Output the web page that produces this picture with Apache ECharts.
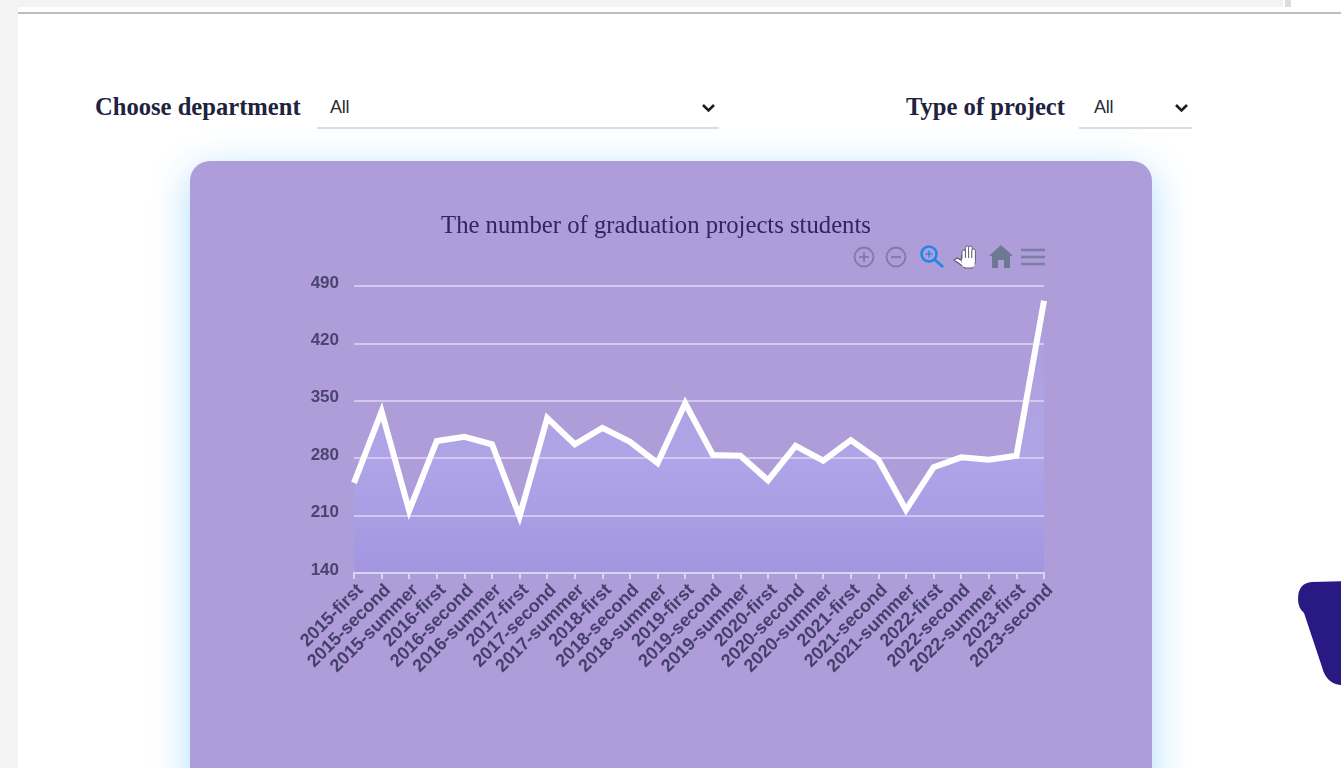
<!DOCTYPE html>
<html>
<head>
<meta charset="utf-8">
<script src="https://cdn.jsdelivr.net/npm/echarts@6/dist/echarts.min.js"></script>
<style>
html,body{margin:0;padding:0;width:1341px;height:768px;overflow:hidden;background:#fff;}
.abs{position:absolute;}
.lab{font-family:"Liberation Serif",serif;font-weight:bold;font-size:24.6px;color:#20223f;line-height:28px;white-space:nowrap;}
.val{font-family:"Liberation Sans",sans-serif;font-size:18px;color:#2b2b33;line-height:22px;letter-spacing:-.3px;}
.ul{height:2px;background:#dcdcdf;}
#card{left:190px;top:161px;width:962px;height:640px;background:#ae9dd9;border-radius:20px;box-shadow:0 10px 38px rgba(160,215,255,.85);}
#chart{left:190px;top:161px;width:962px;height:607px;}
</style>
</head>
<body>
<div class="abs" style="left:0;top:0;width:18px;height:768px;background:#f3f3f3"></div>
<div class="abs" style="left:0;top:0;width:1283px;height:7px;background:#f3f3f3"></div>
<div class="abs" style="left:1285px;top:0;width:6px;height:7px;background:#dcdcdc"></div>
<div class="abs" style="left:18px;top:12px;width:1323px;height:2px;background:#bdbdbd"></div>

<div class="abs lab" style="left:95px;top:93px">Choose department</div>
<div class="abs val" style="left:330px;top:96px">All</div>
<svg class="abs" style="left:701px;top:103px" width="15" height="10"><path d="M2 2 L7.5 7.5 L13 2" fill="none" stroke="#1c1c24" stroke-width="2.6"/></svg>
<div class="abs ul" style="left:317px;top:127px;width:402px"></div>

<div class="abs lab" style="left:906px;top:93px">Type of project</div>
<div class="abs val" style="left:1094px;top:96px">All</div>
<svg class="abs" style="left:1174px;top:103px" width="15" height="10"><path d="M2 2 L7.5 7.5 L13 2" fill="none" stroke="#1c1c24" stroke-width="2.6"/></svg>
<div class="abs ul" style="left:1079px;top:127px;width:113px"></div>

<div class="abs" id="card"></div>
<div class="abs" id="chart"></div>

<svg class="abs" style="left:1290px;top:575px" width="51" height="115">
<path d="M60 6 L22 7 Q8 8 8 24 Q8 33 14 38 L32 92 Q36 108 50 110 L60 110 Z" fill="#281a82"/>
</svg>

<script>
const chartTitle = 'The number of graduation projects students';
const categories = ['2015-first','2015-second','2015-summer','2016-first','2016-second','2016-summer','2017-first','2017-second','2017-summer','2018-first','2018-second','2018-summer','2019-first','2019-second','2019-summer','2020-first','2020-second','2020-summer','2021-first','2021-second','2021-summer','2022-first','2022-second','2022-summer','2023-first','2023-second'];
const students = [250,337,216,301,306,297,209,329,297,317,300,274,347,284,283,253,295,277,302,278,217,269,281,278,283,472];
const yTicks = {min:140,max:490,step:70};

const iconGrey = '#7f7aa6', iconDark = '#6c7a92', iconBlue = '#1e88e5', handEdge = '#5f5c78', menuGrey = '#7b7fa6';
function finger(x, top){
  return {type:'rect',shape:{x:x,y:top,width:3.6,height:14,r:1.8},style:{fill:'#fff',stroke:handEdge,lineWidth:1}};
}
const chart = echarts.init(document.getElementById('chart'), null, {renderer:'canvas'});
chart.setOption({
  animation:false,
  backgroundColor:'transparent',
  title:{
    text:chartTitle,left:461,top:48,textAlign:'center',
    textStyle:{fontFamily:'"Liberation Serif",serif',fontWeight:'normal',fontSize:24.7,color:'#2e2564'}
  },
  grid:{left:164,right:108,top:125,height:287,containLabel:false},
  xAxis:{
    type:'category',data:categories,boundaryGap:false,z:2,
    axisLine:{lineStyle:{color:'#dbd3f3',width:2}},
    axisTick:{show:true,length:6,alignWithLabel:true,lineStyle:{color:'#dbd3f3',width:2}},
    axisLabel:{interval:0,rotate:45,margin:8,verticalAlign:'top',fontFamily:'"Liberation Sans",sans-serif',fontWeight:'bold',fontSize:18,color:'#45406b'},
    splitLine:{show:false}
  },
  yAxis:{
    type:'value',min:yTicks.min,max:yTicks.max,interval:yTicks.step,z:2,
    axisLine:{show:false},axisTick:{show:false},
    axisLabel:{margin:15,verticalAlign:'bottom',lineHeight:6,fontFamily:'"Liberation Sans",sans-serif',fontWeight:'bold',fontSize:17,color:'#4a4570'},
    splitLine:{lineStyle:{color:'#d3c9ef',width:2}}
  },
  series:[
    {type:'line',data:students,z:1,showSymbol:false,symbol:'none',lineStyle:{width:0},
     areaStyle:{opacity:1,color:{type:'linear',x:0,y:0,x2:0,y2:1,colorStops:[
       {offset:0,color:'rgba(176,166,232,0.1)'},
       {offset:.35,color:'rgba(176,166,232,0.6)'},
       {offset:.6,color:'#aea4e7'},
       {offset:1,color:'#a396e1'}]}}},
    {type:'line',data:students,z:4,showSymbol:false,symbol:'none',
     lineStyle:{color:'#ffffff',width:6,join:'miter',miterLimit:10,cap:'butt'}}
  ],
  graphic:[
    {type:'group',x:674,y:96,children:[
      {type:'circle',shape:{cx:0,cy:0,r:9.5},style:{fill:'none',stroke:iconGrey,lineWidth:1.8}},
      {type:'line',shape:{x1:-5,y1:0,x2:5,y2:0},style:{stroke:iconGrey,lineWidth:1.8}},
      {type:'line',shape:{x1:0,y1:-5,x2:0,y2:5},style:{stroke:iconGrey,lineWidth:1.8}}
    ]},
    {type:'group',x:706,y:96,children:[
      {type:'circle',shape:{cx:0,cy:0,r:9.5},style:{fill:'none',stroke:iconGrey,lineWidth:1.8}},
      {type:'line',shape:{x1:-5,y1:0,x2:5,y2:0},style:{stroke:iconGrey,lineWidth:1.8}}
    ]},
    {type:'group',x:739,y:93,children:[
      {type:'circle',shape:{cx:0,cy:0,r:7.5},style:{fill:'none',stroke:iconBlue,lineWidth:2.6}},
      {type:'line',shape:{x1:5.5,y1:5.5,x2:14,y2:13},style:{stroke:iconBlue,lineWidth:2.8}},
      {type:'line',shape:{x1:-3.5,y1:0,x2:3.5,y2:0},style:{stroke:iconBlue,lineWidth:1.4}},
      {type:'line',shape:{x1:0,y1:-3.5,x2:0,y2:3.5},style:{stroke:iconBlue,lineWidth:1.4}}
    ]},
    {type:'group',x:775,y:96,children:[
      {type:'polygon',shape:{points:[[-11,3],[-8,1],[-4,3],[-3,-2],[9,-2],[10,6],[7,11],[0,11],[-4,8]]},style:{fill:'#fff',stroke:handEdge,lineWidth:1.2}},
      finger(-3,-7),finger(0.4,-11),finger(3.6,-11),finger(6.8,-8),
      {type:'rect',shape:{x:-3,y:1,width:12.6,height:9,r:2},style:{fill:'#fff'}}
    ]},
    {type:'polygon',x:811,y:96,shape:{points:[[0,-12],[12,-1],[9,-1],[9,11],[3,11],[3,3],[-3,3],[-3,11],[-9,11],[-9,-1],[-12,-1]]},style:{fill:iconDark}},
    {type:'group',x:843,y:96,children:[
      {type:'line',shape:{x1:-12,y1:-7,x2:12,y2:-7},style:{stroke:menuGrey,lineWidth:2.6}},
      {type:'line',shape:{x1:-12,y1:0,x2:12,y2:0},style:{stroke:menuGrey,lineWidth:2.6}},
      {type:'line',shape:{x1:-12,y1:7,x2:12,y2:7},style:{stroke:menuGrey,lineWidth:2.6}}
    ]}
  ]
});
</script>
</body>
</html>
